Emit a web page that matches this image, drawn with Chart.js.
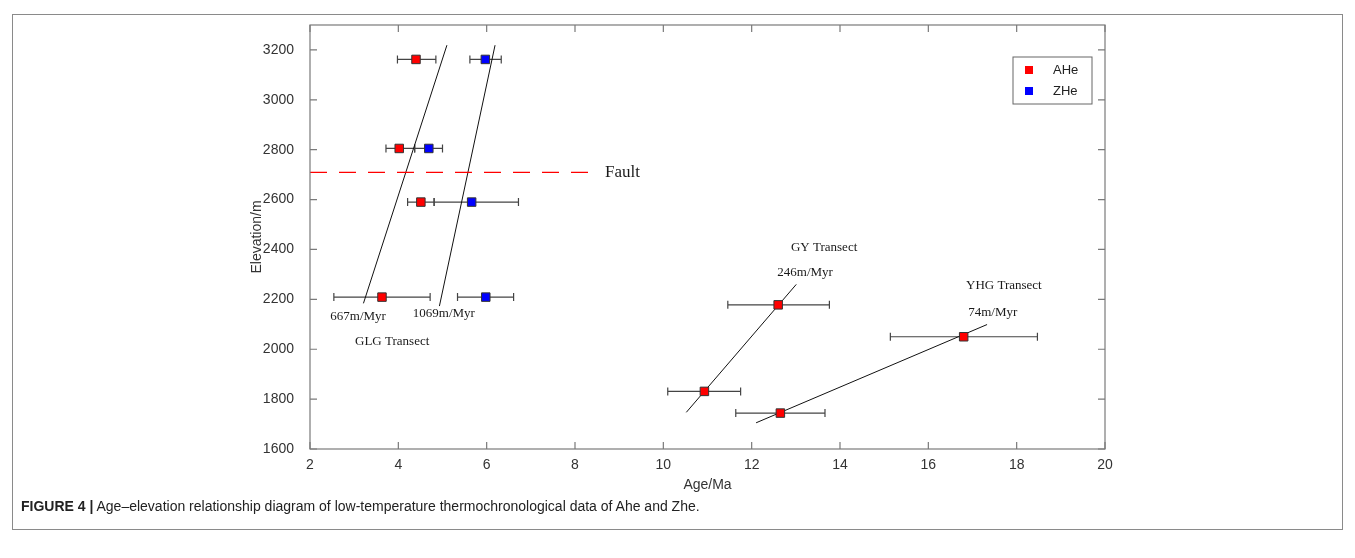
<!DOCTYPE html>
<html lang="en">
<head>
    <meta charset="UTF-8">
    <title>Age-elevation relationship</title>
    <script src="https://cdn.jsdelivr.net/npm/chart.js"></script>
    <style>
        body {
            margin: 0;
            background: #ffffff;
            font-family: 'Liberation Sans', Arial, sans-serif;
        }

        .frame {
            position: absolute;
            left: 12px;
            top: 14px;
            width: 1329px;
            height: 514px;
            border: 1.5px solid #8a8a8a;
        }

        #grafico {
            position: absolute;
            left: 0;
            top: 0;
        }

        .caption {
            position: absolute;
            left: 21px;
            top: 498px;
            font-size: 14px;
            color: #222;
        }
    </style>
</head>
<body>

<div class="frame"></div>
<canvas id="grafico" width="1355" height="558"></canvas>
<div class="caption"><b>FIGURE 4 |</b> Age–elevation relationship diagram of low-temperature thermochronological data of Ahe and Zhe.</div>

<script>
    // Datos
    const aheAge = [4.40, 4.02, 4.51, 3.63, 10.93, 12.60, 12.65, 16.80];
    const aheElev = [3162, 2805, 2590, 2209, 1831, 2178, 1744, 2050];
    const aheLow = [3.98, 3.72, 4.21, 2.54, 10.10, 11.46, 11.64, 15.14];
    const aheHigh = [4.85, 4.37, 4.81, 4.72, 11.75, 13.76, 13.66, 18.47];

    const zheAge = [5.97, 4.69, 5.66, 5.98];
    const zheElev = [3162, 2805, 2590, 2209];
    const zheLow = [5.62, 4.37, 4.81, 5.34];
    const zheHigh = [6.33, 5.00, 6.72, 6.61];

    // rectas de regresion (edad, elevacion) en los extremos
    const glgAheLine = [[3.21, 2184], [5.10, 3219]];
    const glgZheLine = [[4.93, 2173], [6.19, 3219]];
    const gyLine = [[10.52, 1747], [13.01, 2260]];
    const yhgLine = [[12.10, 1705], [17.33, 2099]];
    const faultLine = [[2, 2709], [8.55, 2709]];

    // etiquetas de texto
    const noteText = ['667m/Myr', '1069m/Myr', 'GLG Transect', 'GY Transect', '246m/Myr', 'YHG Transect', '74m/Myr'];
    const noteAge = [3.09, 5.03, 3.86, 13.64, 13.21, 17.71, 17.46];
    const noteElev = [2129, 2141, 2032, 2406, 2306, 2254, 2145];
    const faultText = 'Fault';
    const faultTextAt = [8.68, 2709];

    const xTicks = [2, 4, 6, 8, 10, 12, 14, 16, 18, 20];
    const yTicks = [1600, 1800, 2000, 2200, 2400, 2600, 2800, 3000, 3200];

    function toPoints(xs, ys) {
        return xs.map((x, i) => ({x: x, y: ys[i]}));
    }
    function pairPoints(p) {
        return p.map(v => ({x: v[0], y: v[1]}));
    }

    function lineSet(pts, color, dash) {
        return {
            label: '',
            data: pairPoints(pts),
            showLine: true,
            borderColor: color,
            borderWidth: dash ? 1.4 : 1,
            borderDash: dash || [],
            pointRadius: 0,
            fill: false,
            order: 2
        };
    }

    // Barras de error, marco con ticks interiores, leyenda y textos
    const extras = {
        id: 'extras',
        beforeDatasetsDraw(chart) {
            const ctx = chart.ctx;
            const xs = chart.scales.x, ys = chart.scales.y;
            ctx.save();
            ctx.strokeStyle = '#444';
            ctx.lineWidth = 1.2;
            const groups = [[aheElev, aheLow, aheHigh], [zheElev, zheLow, zheHigh]];
            groups.forEach(g => {
                g[0].forEach((e, i) => {
                    const py = ys.getPixelForValue(e);
                    const x1 = xs.getPixelForValue(g[1][i]);
                    const x2 = xs.getPixelForValue(g[2][i]);
                    ctx.beginPath();
                    ctx.moveTo(x1, py); ctx.lineTo(x2, py);
                    ctx.moveTo(x1, py - 4); ctx.lineTo(x1, py + 4);
                    ctx.moveTo(x2, py - 4); ctx.lineTo(x2, py + 4);
                    ctx.stroke();
                });
            });
            ctx.restore();
        },
        afterDraw(chart) {
            const ctx = chart.ctx;
            const a = chart.chartArea;
            const xs = chart.scales.x, ys = chart.scales.y;
            ctx.save();
            // marco
            ctx.strokeStyle = '#7a7a7a';
            ctx.lineWidth = 1.2;
            ctx.strokeRect(a.left, a.top, a.right - a.left, a.bottom - a.top);
            ctx.beginPath();
            xTicks.forEach(v => {
                const px = xs.getPixelForValue(v);
                ctx.moveTo(px, a.bottom); ctx.lineTo(px, a.bottom - 7);
                ctx.moveTo(px, a.top); ctx.lineTo(px, a.top + 7);
            });
            yTicks.forEach(v => {
                const py = ys.getPixelForValue(v);
                ctx.moveTo(a.left, py); ctx.lineTo(a.left + 7, py);
                ctx.moveTo(a.right, py); ctx.lineTo(a.right - 7, py);
            });
            ctx.stroke();

            // leyenda
            const lx = 1013, ly = 57;
            ctx.strokeStyle = '#666';
            ctx.lineWidth = 1;
            ctx.strokeRect(lx, ly, 79, 47);
            ctx.font = "13px 'Liberation Sans', Arial, sans-serif";
            ctx.textBaseline = 'middle';
            ctx.textAlign = 'left';
            chart.data.datasets.filter(d => d.isLegend).forEach((d, i) => {
                const cy = ly + 13 + i * 21;
                ctx.fillStyle = d.backgroundColor;
                ctx.fillRect(lx + 12, cy - 4, 8, 8);
                ctx.fillStyle = '#222';
                ctx.fillText(d.label, lx + 40, cy);
            });

            // textos
            ctx.fillStyle = '#1a1a1a';
            ctx.textAlign = 'center';
            ctx.font = "13px 'Liberation Serif', 'Times New Roman', serif";
            noteText.forEach((t, i) => {
                ctx.fillText(t, xs.getPixelForValue(noteAge[i]), ys.getPixelForValue(noteElev[i]));
            });
            ctx.textAlign = 'left';
            ctx.font = "17px 'Liberation Serif', 'Times New Roman', serif";
            ctx.fillText(faultText, xs.getPixelForValue(faultTextAt[0]), ys.getPixelForValue(faultTextAt[1]));
            ctx.restore();
        }
    };

    Chart.defaults.font.family = "'Liberation Sans', Arial, sans-serif";
    Chart.defaults.font.size = 14;
    Chart.defaults.color = '#333';

    new Chart(document.getElementById('grafico').getContext('2d'), {
        type: 'scatter',
        data: {
            datasets: [
                lineSet(faultLine, '#ff0000', [17, 12]),
                lineSet(glgAheLine, '#111'),
                lineSet(glgZheLine, '#111'),
                lineSet(gyLine, '#111'),
                lineSet(yhgLine, '#111'),
                {
                    label: 'AHe',
                    isLegend: true,
                    data: toPoints(aheAge, aheElev),
                    backgroundColor: '#ff0000',
                    borderColor: '#333',
                    borderWidth: 1,
                    pointStyle: 'rect',
                    pointRadius: 6,
                    order: 1
                },
                {
                    label: 'ZHe',
                    isLegend: true,
                    data: toPoints(zheAge, zheElev),
                    backgroundColor: '#0000ff',
                    borderColor: '#333',
                    borderWidth: 1,
                    pointStyle: 'rect',
                    pointRadius: 6,
                    order: 1
                }
            ]
        },
        options: {
            responsive: false,
            animation: false,
            devicePixelRatio: 1,
            layout: {
                padding: {left: 245, right: 250, top: 25, bottom: 60}
            },
            plugins: {
                legend: {display: false},
                tooltip: {enabled: false}
            },
            scales: {
                x: {
                    type: 'linear',
                    min: 2,
                    max: 20,
                    grid: {display: false},
                    border: {display: false},
                    ticks: {stepSize: 2, padding: 0, autoSkip: false, maxRotation: 0,
                        callback: v => String(v)},
                    title: {display: true, text: 'Age/Ma', font: {size: 14}, color: '#333'},
                    afterFit(scale) { scale.height = 49; }
                },
                y: {
                    type: 'linear',
                    min: 1600,
                    max: 3300,
                    grid: {display: false},
                    border: {display: false},
                    ticks: {stepSize: 200, padding: 8, includeBounds: false, autoSkip: false,
                        callback: v => String(v)},
                    title: {display: true, text: 'Elevation/m', font: {size: 14}, color: '#333'},
                    afterFit(scale) { scale.width = 65; }
                }
            }
        },
        plugins: [extras]
    });
</script>

</body>
</html>
